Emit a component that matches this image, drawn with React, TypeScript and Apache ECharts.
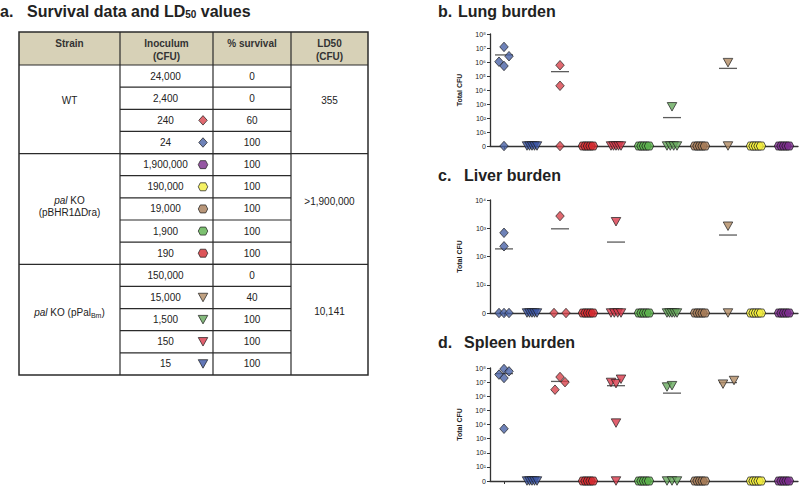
import React, { useEffect, useRef } from 'react';
import * as echarts from 'echarts';

const FONT = '"Liberation Sans", Arial, Helvetica, sans-serif';

// ---- groups (x categories of the burden plots) ----
const groupNames = ['WT 24', 'pPal 15', 'WT 240', 'pBHR 190', 'pPal 150', 'pBHR 1,900', 'pPal 1,500', 'pBHR 19,000', 'pPal 15,000', 'pBHR 190,000', 'pBHR 1,900,000'];
const groupShapes = ['diamond', 'triangle', 'diamond', 'hexagon', 'triangle', 'hexagon', 'triangle', 'hexagon', 'triangle', 'hexagon', 'hexagon'];
const groupColors = ['#4a63a6', '#3b55a5', '#d8434c', '#d52b2f', '#d9384a', '#5bb04c', '#67a95c', '#a67c57', '#b08a62', '#f2ee3c', '#7b2c8c'];

// ---- burden data (Total CFU; 0 = none detected) ----
const lungCFU = [
  [1.2e7, 1.05e6, 5.2e5, 2.6e6, 0], [0, 0, 0, 0, 0], [5.9e5, 2e4, 0], [0, 0, 0, 0, 0], [0, 0, 0, 0, 0],
  [0, 0, 0, 0, 0], [630, 0, 0, 0, 0], [0, 0, 0, 0, 0], [9e5, 0], [0, 0, 0, 0, 0], [0, 0, 0, 0, 0],
];
const lungMean = [3.2e6, null, 2.05e5, null, null, null, 107, null, 3.5e5, null, null];

const liverCFU = [
  [690, 230, 0, 0, 0], [0, 0, 0, 0, 0], [2700, 0, 0], [0, 0, 0, 0, 0], [1700, 0, 0, 0, 0],
  [0, 0, 0, 0, 0], [0, 0, 0, 0, 0], [0, 0, 0, 0, 0], [1180, 0], [0, 0, 0, 0, 0], [0, 0, 0, 0, 0],
];
const liverMean = [186, null, 955, null, 324, null, null, null, 575, null, null];

const spleenCFU = [
  [3.4e7, 8.5e7, 5.8e7, 1.95e7, 5e3], [0, 0, 0, 0, 0], [2.9e6, 2.3e7, 1e7], [0, 0, 0, 0, 0], [9.5e6, 7.8e6, 1.6e7, 1.26e4, 0],
  [0, 0, 0, 0, 0], [4.5e6, 5.6e6, 0, 0, 0], [0, 0, 0, 0, 0], [7.2e6, 1.3e7], [0, 0, 0, 0, 0], [0, 0, 0, 0, 0],
];
const spleenMean = [4e7, null, 1.12e7, null, 5.6e6, null, 1.66e6, null, 9.3e6, null, null];

// ---- horizontal jitter (px) of each point within its group ----
const Z5 = [-5, -2.5, 0, 2.5, 5];
const lungJitter = [[0, -5, 0, 5, 0], Z5, [0, 0, 0], Z5, Z5, Z5, [0, -5, -1.7, 1.7, 5], Z5, [0, 0], Z5, Z5];
const liverJitter = [[0, 0, -5, 0, 5], Z5, [0, -6, 6], Z5, [0, -5, -1.7, 1.7, 5], Z5, Z5, Z5, [0, 0], Z5, Z5];
const spleenJitter = [[-5, 0, 5, 0, 0], Z5, [-5, 0, 5], Z5, [-5, 0, 5, 0, 0], Z5, [-5, 0, -5, 0, 5], Z5, [-5, 6], Z5, Z5];

// ---- table data ----
const inoculumLabels = ['24,000', '2,400', '240', '24', '1,900,000', '190,000', '19,000', '1,900', '190', '150,000', '15,000', '1,500', '150', '15'];
const survivalPct = ['0', '0', '60', '100', '100', '100', '100', '100', '100', '0', '40', '100', '100', '100'];
const rowGroup: (number | null)[] = [null, null, 2, 0, 10, 9, 7, 5, 3, null, 8, 6, 4, 1];
const strainRowCounts = [4, 5, 5];
const strainLabels = ['{n|WT}', '{i|pal}{n| KO}\n{n|(pBHR1ΔDra)}', '{i|pal}{n| KO (pPal}{s|Bm}{n|)}'];
const ld50Labels = ['355', '>1,900,000', '10,141'];
const headerLabels = ['Strain', 'Inoculum\n(CFU)', '% survival', 'LD50\n(CFU)'];

const yTickMaxLung = 8;
const yTickMaxLiver = 4;
const yTickMaxSpleen = 8;

const SUP = ['⁰', '¹', '²', '³', '⁴', '⁵', '⁶', '⁷', '⁸', '⁹'];

const SYMBOLS: Record<string, { symbol: string; size: number[] }> = {
  diamond: { symbol: 'diamond', size: [8.5, 9.5] },
  triangle: { symbol: 'path://M0,0 L10,0 L5,8.5 Z', size: [9.5, 8.5] },
  hexagon: { symbol: 'path://M0,4 L2.6,0 L9.4,0 L12,4 L9.4,8 L2.6,8 Z', size: [9.5, 8] },
};

const toLog = (v: number) => (v <= 0 ? 0 : Math.log10(v));

function markerSeries(values: number[][], jitter: number[][], gridIdx: number) {
  const data: any[] = [];
  values.forEach((arr, g) => {
    const s = SYMBOLS[groupShapes[g]];
    arr.forEach((v, k) => {
      data.push({
        value: [g, toLog(v)],
        symbol: s.symbol,
        symbolSize: s.size,
        symbolOffset: [jitter[g][k] || 0, 0],
        itemStyle: { color: groupColors[g], borderColor: '#1e1e1e', borderWidth: 0.9 },
      });
    });
  });
  return {
    type: 'scatter', xAxisIndex: gridIdx, yAxisIndex: gridIdx, z: 3, data, silent: true,
  };
}

function meanSeries(means: (number | null)[], gridIdx: number) {
  const data: any[] = [];
  means.forEach((m, g) => {
    if (m !== null) data.push([g, toLog(m)]);
  });
  return {
    type: 'scatter', xAxisIndex: gridIdx, yAxisIndex: gridIdx, z: 2, silent: true,
    symbol: 'rect', symbolSize: [18, 1.3], itemStyle: { color: '#333' }, data,
  };
}

function xAxisFor(gridIndex: number) {
  return {
    type: 'category', gridIndex, data: groupNames, boundaryGap: true,
    axisLine: { show: true, lineStyle: { color: '#333', width: 1.3 } },
    axisTick: { show: true, alignWithLabel: true, length: 3, lineStyle: { color: '#333', width: 1 } },
    axisLabel: { show: false }, splitLine: { show: false },
  };
}

function yAxisFor(gridIndex: number, max: number) {
  return {
    type: 'value', gridIndex, min: 0, max, interval: 1,
    name: 'Total CFU', nameLocation: 'middle', nameRotate: 90, nameGap: 27,
    nameTextStyle: { fontSize: 7, fontWeight: 'bold', color: '#222', fontFamily: FONT },
    axisLine: { show: true, lineStyle: { color: '#333', width: 1.3 } },
    axisTick: { show: true, length: 3, lineStyle: { color: '#333', width: 1 } },
    axisLabel: {
      fontSize: 7, color: '#222', fontFamily: FONT, margin: 4,
      formatter: (v: number) => (v === 0 ? '0' : '10' + SUP[v]),
    },
    splitLine: { show: false },
  };
}

export default function App() {
  const ref = useRef<HTMLDivElement>(null);
  useEffect(() => {
    if (!ref.current) return;
    const chart = echarts.init(ref.current, undefined, { renderer: 'svg' });

    // ---- table geometry ----
    const colX = [19, 120, 213, 291, 368];
    const tableTop = 32, headerBottom = 65, tableBottom = 375;
    const nRows = inoculumLabels.length;
    const rowH = (tableBottom - headerBottom) / nRows;
    const rowY = (i: number) => headerBottom + rowH * (i + 0.5);
    const lineStyle = { stroke: '#2b2b2b', lineWidth: 1.2 };
    const txt = (text: string, x: number, y: number, extra: any = {}) => ({
      type: 'text', x, y, silent: true,
      style: { text, fontSize: 10, fontFamily: FONT, fill: '#222', align: 'center', verticalAlign: 'middle', ...extra },
    });

    const g: any[] = [];
    g.push({ type: 'rect', shape: { x: colX[0], y: tableTop, width: colX[4] - colX[0], height: headerBottom - tableTop }, style: { fill: '#d7d1b7' }, silent: true });
    for (let i = 1; i < nRows; i++) {
      const y = headerBottom + rowH * i;
      g.push({ type: 'line', shape: { x1: colX[1], y1: y, x2: colX[3], y2: y }, style: lineStyle, silent: true });
    }
    let acc = 0;
    const groupBounds: number[][] = [];
    strainRowCounts.forEach((c) => {
      const y0 = headerBottom + rowH * acc;
      acc += c;
      const y1 = headerBottom + rowH * acc;
      groupBounds.push([y0, y1]);
    });
    [headerBottom, groupBounds[0][1], groupBounds[1][1]].forEach((y) => {
      g.push({ type: 'line', shape: { x1: colX[0], y1: y, x2: colX[4], y2: y }, style: lineStyle, silent: true });
    });
    colX.slice(1, 4).forEach((x) => {
      g.push({ type: 'line', shape: { x1: x, y1: tableTop, x2: x, y2: tableBottom }, style: lineStyle, silent: true });
    });
    g.push({ type: 'rect', shape: { x: colX[0], y: tableTop, width: colX[4] - colX[0], height: tableBottom - tableTop }, style: { fill: 'none', stroke: '#2b2b2b', lineWidth: 1.5 }, silent: true });

    headerLabels.forEach((h, i) => {
      const cx = (colX[i] + colX[i + 1]) / 2;
      const lines = h.split('\n');
      lines.forEach((l, k) => g.push(txt(l, cx, 43 + k * 13, { fontWeight: 'bold', fill: '#333' })));
    });
    inoculumLabels.forEach((l, i) => {
      g.push(txt(l, (colX[1] + colX[2]) / 2 - 1, rowY(i)));
      g.push(txt(survivalPct[i], (colX[2] + colX[3]) / 2, rowY(i)));
    });
    const rich = {
      n: { fontSize: 10, fontFamily: FONT, fill: '#222', lineHeight: 12 },
      i: { fontSize: 10, fontFamily: FONT, fill: '#222', fontStyle: 'italic', lineHeight: 12 },
      s: { fontSize: 7, fontFamily: FONT, fill: '#222', verticalAlign: 'bottom', lineHeight: 12 },
    };
    const strainOffsets = [-9, -2, -7];
    const ldOffsets = [-9, -7, -8];
    groupBounds.forEach(([y0, y1], k) => {
      const cy = (y0 + y1) / 2;
      g.push(txt(strainLabels[k], (colX[0] + colX[1]) / 2, cy + strainOffsets[k], { rich }));
      g.push(txt(ld50Labels[k], (colX[3] + colX[4]) / 2, cy + ldOffsets[k]));
    });

    const titleRich = {
      n: { fontSize: 16, fontWeight: 'bold', fontFamily: FONT, fill: '#222' },
      s: { fontSize: 10, fontWeight: 'bold', fontFamily: FONT, fill: '#222', verticalAlign: 'bottom' },
    };
    const title = (letter: string, text: string, lx: number, tx: number, y: number) => {
      g.push(txt(letter, lx, y, { fontSize: 16, fontWeight: 'bold', align: 'left' }));
      g.push(txt(text, tx, y, { align: 'left', rich: titleRich }));
    };
    title('a.', '{n|Survival data and LD}{s|50}{n| values}', 0, 27, 11);
    title('b.', '{n|Lung burden}', 438, 458, 11);
    title('c.', '{n|Liver burden}', 438, 464, 175);
    title('d.', '{n|Spleen burden}', 438, 464, 342);

    const tableSymbolData: any[] = [];
    rowGroup.forEach((gi, i) => {
      if (gi === null) return;
      const s = SYMBOLS[groupShapes[gi]];
      tableSymbolData.push({
        value: [0.5, i], symbol: s.symbol, symbolSize: s.size,
        itemStyle: { color: groupColors[gi], borderColor: '#1e1e1e', borderWidth: 0.9 },
      });
    });

    chart.setOption({
      animation: false,
      backgroundColor: '#fff',
      textStyle: { fontFamily: FONT },
      grid: [
        { left: 490, top: 34, width: 308, height: 112 },
        { left: 490, top: 200, width: 308, height: 113 },
        { left: 490, top: 368, width: 308, height: 113 },
        { left: 198, top: headerBottom, width: 10, height: tableBottom - headerBottom },
      ],
      xAxis: [
        xAxisFor(0), xAxisFor(1), xAxisFor(2),
        { type: 'value', gridIndex: 3, min: 0, max: 1, show: false },
      ],
      yAxis: [
        yAxisFor(0, yTickMaxLung), yAxisFor(1, yTickMaxLiver), yAxisFor(2, yTickMaxSpleen),
        { type: 'category', gridIndex: 3, inverse: true, show: false, data: inoculumLabels.map((_, i) => i) },
      ],
      graphic: g,
      series: [
        meanSeries(lungMean, 0), markerSeries(lungCFU, lungJitter, 0),
        meanSeries(liverMean, 1), markerSeries(liverCFU, liverJitter, 1),
        meanSeries(spleenMean, 2), markerSeries(spleenCFU, spleenJitter, 2),
        { type: 'scatter', xAxisIndex: 3, yAxisIndex: 3, silent: true, data: tableSymbolData },
      ],
    });
    return () => chart.dispose();
  }, []);
  return <div ref={ref} style={{ position: 'fixed', left: 0, top: 0, width: 800, height: 487, background: '#fff' }} />;
}
